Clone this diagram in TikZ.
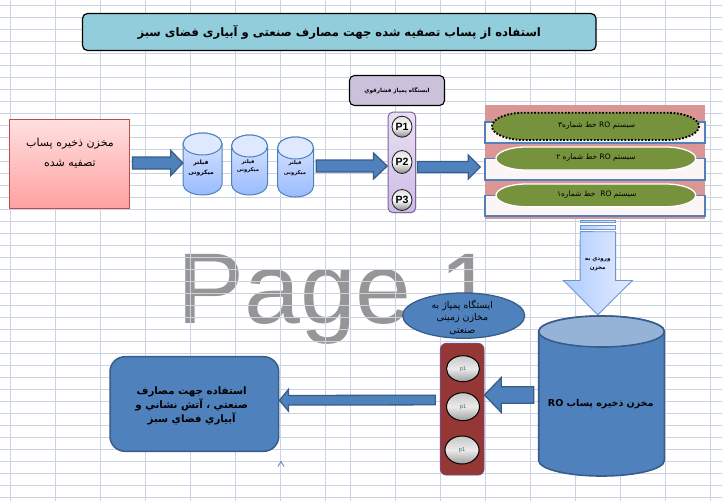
\documentclass[tikz,border=0pt]{standalone}
\usepackage{fontspec}
\setmainfont{Liberation Sans}
\newfontfamily\fa[Script=Arabic]{DejaVu Sans}
\TeXXeTstate=1
\usetikzlibrary{shapes.geometric,calc,shadows}
\definecolor{gridc}{HTML}{CBD3E3}
\definecolor{bluef}{HTML}{4F81BD}
\definecolor{blued}{HTML}{385D8A}
\definecolor{titlef}{HTML}{92CDDC}
\definecolor{lilac}{HTML}{CCC1DA}
\definecolor{roseb}{HTML}{D99694}
\definecolor{olive}{HTML}{76923C}
\definecolor{brown}{HTML}{953735}
\newcommand{\fs}[2]{\fa\fontsize{#1}{#2}\selectfont}
\newcommand{\R}[1]{\beginR #1\endR}
\newcommand{\blockarrow}[6]{% from, to, half shaft, head length, half head, style
  \coordinate (ba0) at #1; \coordinate (ba1) at #2;
  \coordinate (bah) at ($(ba1)!#4pt!(ba0)$);
  \path[#6] ($(ba0)!#3pt!90:(ba1)$) -- ($(bah)!#3pt!90:(ba1)$) -- ($(bah)!#5pt!90:(ba1)$) -- (ba1)
     -- ($(bah)!#5pt!-90:(ba1)$) -- ($(bah)!#3pt!-90:(ba1)$) -- ($(ba0)!#3pt!-90:(ba1)$) -- cycle;
}
\newcommand{\stadium}[7]{% x0 y0 x1 y1 ry rx style
  \path[#7] (#1+#6,#2) -- (#3-#6,#2) arc[start angle=-90,end angle=0,x radius=#6,y radius=#5]
    arc[start angle=0,end angle=90,x radius=#6,y radius=#5] -- (#1+#6,#4)
    arc[start angle=90,end angle=180,x radius=#6,y radius=#5]
    arc[start angle=180,end angle=270,x radius=#6,y radius=#5] -- cycle;
}
\tikzset{
  x=1pt,y=-1pt,
  box/.style={rectangle,inner sep=0pt,draw},
  oval/.style={ellipse,inner sep=0pt,draw},
  txt/.style={inner sep=0pt,align=center,text=black},
  barrow/.style={draw=blued,fill=bluef,line width=1.3pt,line join=miter},
  tankf/.style={draw=bluef,line width=1pt,top color={rgb,255:red,222;green,232;blue,255},bottom color={rgb,255:red,153;green,187;blue,255}},
  pumpc/.style={oval,draw=black!85,line width=.9pt,top color=black!12,bottom color=black!45,middle color=white},
  band/.style={box,draw=bluef,line width=1.5pt,fill={rgb,255:red,251;green,245;blue,245},minimum width=220pt},
}
\newcommand{\tankshape}[7]{% x0 y0 x1 y1 ry body-style lid-style
  \path[#6] (#1,#2+#5) -- (#1,#4-#5) arc[start angle=180,end angle=0,x radius={(#3-#1)/2},y radius=#5] -- (#3,#2+#5)
     arc[start angle=0,end angle=-180,x radius={(#3-#1)/2},y radius=#5] -- cycle;
  \path[#7] (#1,#2+#5) arc[start angle=180,end angle=0,x radius={(#3-#1)/2},y radius=#5]
     arc[start angle=0,end angle=-180,x radius={(#3-#1)/2},y radius=#5] -- cycle;
}
\begin{document}
\begin{tikzpicture}
\useasboundingbox (0,0) rectangle (722,501);
\fill[white] (0,0) rectangle (722,501);
% watermark
\node[anchor=base west,inner sep=0pt,text={rgb,255:red,150;green,150;blue,150},font=\fontsize{100.5}{101}\selectfont] (wm) at (177,323) {Page 1};
% grid
\foreach \gx in {10,55.7,100.7,145.5,190.7,235.7,280.5,325.7,350.5,395.7,440.7,485.5,530.7,575.7,620.5,665.7,710.7}
  \draw[gridc,line width=1pt] (\gx,0) -- (\gx,501);
\foreach \k in {0,...,41}
  \draw[gridc,line width=1pt] (0,5.3+12*\k) -- (722,5.3+12*\k);
% title
\node[box,rounded corners=5pt,fill=titlef,draw=black,line width=1.2pt,minimum width=513.5pt,minimum height=37pt,txt,font={\fs{11.6}{14}\bfseries}] (title) at (339.25,32)
  {\R{استفاده از پساب تصفیه شده جهت مصارف صنعتی و آبیاری فضای سبز}};
% source
\node[box,draw={rgb,255:red,190;green,75;blue,72},line width=1pt,top color={rgb,255:red,255;green,224;blue,224},bottom color={rgb,255:red,255;green,160;blue,160},minimum width=120pt,minimum height=89pt] (src) at (69.5,164) {};
\node[txt,font={\fs{11}{13}}] (srct1) at (70,144) {\R{مخزن ذخیره پساب}};
\node[txt,font={\fs{11}{13}}] (srct2) at (70,164) {\R{تصفیه شده}};
% filters
\tankshape{183}{133}{222}{195}{11}{tankf}{draw=bluef,line width=1pt,fill={rgb,255:red,222;green,232;blue,255}}
\tankshape{231.5}{135}{267.5}{195}{11}{tankf}{draw=bluef,line width=1pt,fill={rgb,255:red,222;green,232;blue,255}}
\tankshape{277.5}{137}{313.5}{197}{11}{tankf}{draw=bluef,line width=1pt,fill={rgb,255:red,222;green,232;blue,255}}
\node[inner sep=0pt,minimum width=39pt,minimum height=62pt] (f1) at (202.5,164) {};
\node[inner sep=0pt,minimum width=36pt,minimum height=60pt] (f2) at (249.5,165) {};
\node[inner sep=0pt,minimum width=36pt,minimum height=60pt] (f3) at (295.5,167) {};
\node[txt,font={\fs{6}{9.5}\bfseries}] (f1t) at (201,168) {\R{فیلتر}\\\R{میکرونی}};
\node[txt,font={\fs{5.2}{8.5}\bfseries}] (f2t) at (248,166) {\R{فیلتر}\\\R{میکرونی}};
\node[txt,font={\fs{5.2}{9.5}\bfseries}] (f3t) at (295,168) {\R{فیلتر}\\\R{میکرونی}};
% pump station
\node[box,rounded corners=5pt,draw=black,line width=1.1pt,fill=lilac,minimum width=95pt,minimum height=30pt,txt,font={\fs{5.6}{8}\bfseries}] (plabel) at (397,90.5) {\R{ایستگاه پمپاژ فشارقوي}};
\node[box,rounded corners=5pt,draw={rgb,255:red,128;green,100;blue,162},line width=1pt,top color={rgb,255:red,232;green,225;blue,242},bottom color={rgb,255:red,205;green,187;blue,230},minimum width=27.7pt,minimum height=100.7pt,drop shadow={shadow xshift=.7pt,shadow yshift=-.7pt,opacity=.25}] (ppanel) at (401.85,162.35) {};
\node[pumpc,minimum width=20pt,minimum height=21pt,font=\bfseries\fontsize{10.5}{12}\selectfont] (P1) at (402,126.7) {P1};
\node[pumpc,minimum width=20pt,minimum height=23pt,font=\bfseries\fontsize{10.5}{12}\selectfont] (P2) at (402,162) {P2};
\node[pumpc,minimum width=20pt,minimum height=21pt,font=\bfseries\fontsize{10.5}{12}\selectfont] (P3) at (402,200) {P3};
% RO block
\node[rectangle,inner sep=0pt,fill=roseb,minimum width=220pt,minimum height=114pt] (robg) at (595,162) {};
\node[band,minimum height=21pt] (b3) at (595,132.5) {};
\node[band,minimum height=21.3pt] (b2) at (595,169.3) {};
\node[band,minimum height=20.3pt] (b1) at (595,205.8) {};
\stadium{492}{112.7}{699}{140}{13.65}{32}{fill=olive,draw=black,line width=1.9pt,dash pattern=on 1.7pt off 1.7pt}
\stadium{496}{147}{695.7}{170}{11.5}{30}{fill=olive,draw=white,line width=1.3pt}
\stadium{496}{184}{695.7}{206.7}{11.35}{30}{fill=olive,draw=white,line width=1.3pt}
\node[txt,font={\fs{7.5}{9}}] (ro3t) at (596.7,125.7) {\R{سیستم \beginL RO\endL{} خط شماره۳}};
\node[txt,font={\fs{7.5}{9}}] (ro2t) at (596,157.7) {\R{سیستم \beginL RO\endL{} خط شماره ۲}};
\node[txt,font={\fs{7.5}{9}}] (ro1t) at (596.7,194.7) {\R{سیستم \beginL RO\endL{}~ خط شماره۱}};
% big tank
\tankshape{538.7}{316}{664.3}{476}{15.5}{draw=blued,line width=1.6pt,fill=bluef}{draw=blued,line width=1.6pt,fill={rgb,255:red,149;green,179;blue,215}}
\node[inner sep=0pt,minimum width=125.6pt,minimum height=160pt] (tank) at (601.5,396) {};
\node[txt,font={\fs{9.5}{11}\bfseries}] (tankt) at (600.7,404) {\R{مخزن ذخیره پساب \beginL RO\endL}};
% down arrow
\tikzset{downa/.style={draw={rgb,255:red,110;green,150;blue,205},line width=.9pt,left color={rgb,255:red,175;green,203;blue,255},right color={rgb,255:red,228;green,236;blue,255}}}
\path[downa] (580.3,220.3) rectangle (615.7,222.7);
\path[downa] (580.3,225) rectangle (615.7,229.7);
\coordinate (dtail) at (597.9,231.7);
\blockarrow{(dtail)}{([xshift=-3.7pt,yshift=1pt]tank.north)}{17.7}{34.3}{34.5}{downa}
\node[txt,font={\fs{5.6}{8.5}\bfseries}] (dt) at (597.7,264.5) {\R{ورودي به}\\\R{مخزن}};
% lower pump station
\node[oval,fill=bluef,draw=blued,line width=1.3pt,minimum width=122pt,minimum height=45.3pt] (lpe) at (463.7,315.6) {};
\node[txt,font={\fs{9.4}{12.5}}] (lpet) at (462.3,317) {\R{ایستگاه پمپاژ به}\\\R{مخازن زمینی}\\\R{صنعتی}};
\node[box,rounded corners=6pt,fill=brown,draw={rgb,255:red,120;green,70;blue,130},line width=.8pt,minimum width=43.7pt,minimum height=131.7pt] (lpanel) at (462.2,409.2) {};
\tikzset{lp/.style={oval,draw=black,line width=1pt,top color=black!22,bottom color=black!38,middle color=white!92!black,text={rgb,255:red,70;green,90;blue,110},font=\fontsize{5.5}{7}\selectfont}}
\node[lp,minimum width=33pt,minimum height=26pt] (p1a) at (463,368.7) {p1};
\node[lp,minimum width=33pt,minimum height=28pt] (p1b) at (463,406.7) {p1};
\node[lp,minimum width=34pt,minimum height=28pt] (p1c) at (462,450) {p1};
% use box
\node[box,rounded corners=15pt,fill=bluef,draw=blued,line width=1.5pt,minimum width=168.7pt,minimum height=94.6pt] (use) at (194.35,404) {};
\node[txt,font={\fs{10.2}{14.3}\bfseries}] (uset) at (191.7,406) {\R{استفاده جهت مصارف}\\\R{صنعتي ، آتش نشاني و}\\\R{آبياري فضاي سبز}};
% arrows
\blockarrow{([xshift=2.5pt,yshift=1pt]src.east)}{([yshift=1pt]f1.west)}{6}{12}{12.5}{barrow}
\blockarrow{([xshift=2.5pt,yshift=1pt]f3.east)}{([xshift=-.3pt,yshift=-3.65pt]ppanel.west)}{6}{13.7}{13}{barrow}
\blockarrow{([xshift=1.3pt,yshift=-4.6pt]ppanel.east)}{([xshift=-4pt,yshift=2.3pt]b2.west)}{5.5}{12}{12}{barrow}
\blockarrow{([xshift=-4.7pt,yshift=1pt]tank.west)}{([yshift=14.2pt]lpanel.east)}{8.3}{16.7}{17.3}{barrow}
\blockarrow{([xshift=-4.7pt,yshift=9.2pt]lpanel.west)}{([yshift=3.7pt]use.east)}{4.8}{9}{10.8}{barrow}
% caret
\draw[bluef,line width=.8pt] (278,466.5) coordinate (c1) -- (281,461.5) coordinate (c2) -- (284,466.5) coordinate (c3);
\end{tikzpicture}
\end{document}
